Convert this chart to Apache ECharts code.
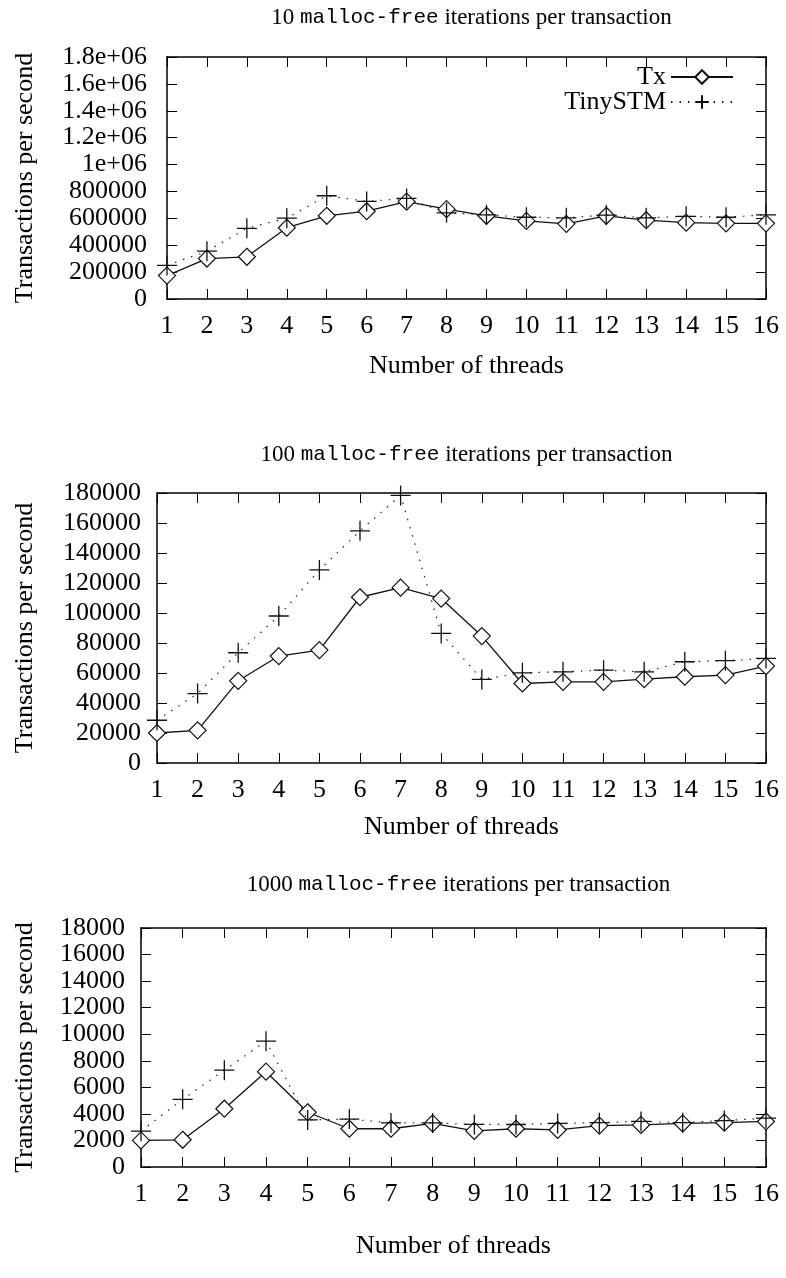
<!DOCTYPE html>
<html>
<head>
<meta charset="utf-8">
<script src="https://cdn.jsdelivr.net/npm/echarts@6/dist/echarts.min.js"></script>
<style>
html,body{margin:0;padding:0;background:#fff;}
#chart{width:786px;height:1278px;}
</style>
</head>
<body>
<div id="chart"></div>
<script>
// ---- data ----
const threads = [1,2,3,4,5,6,7,8,9,10,11,12,13,14,15,16];
const seriesNames = ['Tx', 'TinySTM'];
const iterCounts = ['10', '100', '1000'];

const tx10   = [174000, 301000, 314000, 530000, 619000, 653000, 724000, 668000, 619000, 581000, 559000, 619000, 586000, 568000, 563000, 563000];
const stm10  = [250000, 356000, 526000, 601000, 768000, 726000, 748000, 641000, 626000, 608000, 604000, 624000, 604000, 615000, 608000, 626000];

const tx100  = [20000, 21800, 54800, 71300, 75300, 110500, 116900, 109600, 84600, 53000, 54100, 54100, 55900, 57500, 58600, 64600];
const stm100 = [28500, 46300, 73500, 98000, 128700, 154800, 178400, 86400, 55700, 60100, 60800, 61900, 60800, 67500, 68200, 69700];

const tx1000  = [2000, 2050, 4390, 7180, 4125, 2880, 2880, 3280, 2720, 2880, 2790, 3120, 3170, 3280, 3340, 3430];
const stm1000 = [2700, 5100, 7290, 9480, 3545, 3610, 3320, 3320, 3210, 3200, 3280, 3340, 3430, 3340, 3500, 3680];

const yTicks10   = ['0','200000','400000','600000','800000','1e+06','1.2e+06','1.4e+06','1.6e+06','1.8e+06'];
const yTicks100  = ['0','20000','40000','60000','80000','100000','120000','140000','160000','180000'];
const yTicks1000 = ['0','2000','4000','6000','8000','10000','12000','14000','16000','18000'];
const xTickLabels = threads.map(String);

const yMax = [1800000, 180000, 18000];
const yStep = [200000, 20000, 2000];
const yTickSets = [yTicks10, yTicks100, yTicks1000];
const txSets = [tx10, tx100, tx1000];
const stmSets = [stm10, stm100, stm1000];

// ---- layout ----
const FONT = '"Liberation Serif", "DejaVu Serif", serif';
const MONO = '"Liberation Mono", "DejaVu Sans Mono", monospace';
const plotTop = [57, 493, 928];
const plotH = [242, 270, 239];
const plotLeft = [167, 157, 141];
const plotRight = 766;
const titleTop = [1, 438, 868];
const xNameGap = [54, 51, 66];
const yLabelMargin = [20, 16, 16];

const chart = echarts.init(document.getElementById('chart'), null, {renderer: 'canvas'});

const grids = [], xAxes = [], yAxes = [], series = [], titles = [];
const tick = {show: true, inside: true, length: 10, lineStyle: {color: '#000', width: 1}};
const line = {show: true, onZero: false, lineStyle: {color: '#000', width: 1.5}};

for (let k = 0; k < 3; k++) {
  grids.push({left: plotLeft[k], top: plotTop[k], width: plotRight - plotLeft[k], height: plotH[k], containLabel: false});
  const ticks = yTickSets[k];
  const step = yStep[k];
  xAxes.push({
    type: 'value', gridIndex: k, position: 'bottom', min: 1, max: 16, interval: 1,
    name: 'Number of threads', nameLocation: 'middle', nameGap: xNameGap[k],
    nameTextStyle: {fontFamily: FONT, fontSize: 26, color: '#000'},
    axisLine: line, axisTick: tick, splitLine: {show: false},
    axisLabel: {margin: 14, fontFamily: FONT, fontSize: 26, color: '#000',
      formatter: v => xTickLabels[Math.round(v) - 1]}
  });
  xAxes.push({
    type: 'value', gridIndex: k, position: 'top', min: 1, max: 16, interval: 1,
    axisLine: line, axisTick: tick, splitLine: {show: false}, axisLabel: {show: false}
  });
  yAxes.push({
    type: 'value', gridIndex: k, position: 'left', min: 0, max: yMax[k], interval: step,
    name: 'Transactions per second', nameLocation: 'middle', nameGap: plotLeft[k] - 38,
    nameTextStyle: {fontFamily: FONT, fontSize: 26, color: '#000'},
    axisLine: line, axisTick: tick, splitLine: {show: false},
    axisLabel: {margin: yLabelMargin[k], fontFamily: FONT, fontSize: 26, color: '#000',
      formatter: v => ticks[Math.round(v / step)]}
  });
  yAxes.push({
    type: 'value', gridIndex: k, position: 'right', min: 0, max: yMax[k], interval: step,
    axisLine: line, axisTick: tick, splitLine: {show: false}, axisLabel: {show: false}
  });
  titles.push({
    text: '{a|' + iterCounts[k] + ' }{m|malloc-free}{a| iterations per transaction}',
    left: (plotLeft[k] + plotRight) / 2, top: titleTop[k], textAlign: 'center',
    textStyle: {fontWeight: 'normal', rich: {
      a: {fontFamily: FONT, fontSize: 23, fontWeight: 'normal', color: '#000'},
      m: {fontFamily: MONO, fontSize: 21, fontWeight: 'normal', color: '#000'}
    }}
  });
  series.push({
    name: seriesNames[0], type: 'line', xAxisIndex: 2 * k, yAxisIndex: 2 * k,
    data: threads.map((t, i) => [t, txSets[k][i]]),
    symbol: 'diamond', symbolSize: [17, 17], showAllSymbol: true,
    lineStyle: {color: '#111', width: 1.3},
    itemStyle: {color: '#fff', borderColor: '#111', borderWidth: 1.2},
    animation: false, z: 2
  });
  series.push({
    name: seriesNames[1], type: 'line', xAxisIndex: 2 * k, yAxisIndex: 2 * k,
    data: threads.map((t, i) => [t, stmSets[k][i]]),
    symbol: 'path://M10,0 L10,20 M0,10 L20,10', symbolSize: [20, 20], showAllSymbol: true,
    lineStyle: {color: '#222', width: 1.2, type: [1.5, 7]},
    itemStyle: {color: 'none', borderColor: '#111', borderWidth: 1.3},
    animation: false, z: 3
  });
}

chart.setOption({
  backgroundColor: '#fff',
  animation: false,
  title: titles,
  grid: grids,
  xAxis: xAxes,
  yAxis: yAxes,
  legend: {
    data: seriesNames, orient: 'vertical', right: 47, top: 59,
    align: 'right', itemWidth: 62, itemHeight: 17, itemGap: -1,
    textStyle: {fontFamily: FONT, fontSize: 26, color: '#000'},
    inactiveColor: '#000'
  },
  series: series
});
</script>
</body>
</html>
